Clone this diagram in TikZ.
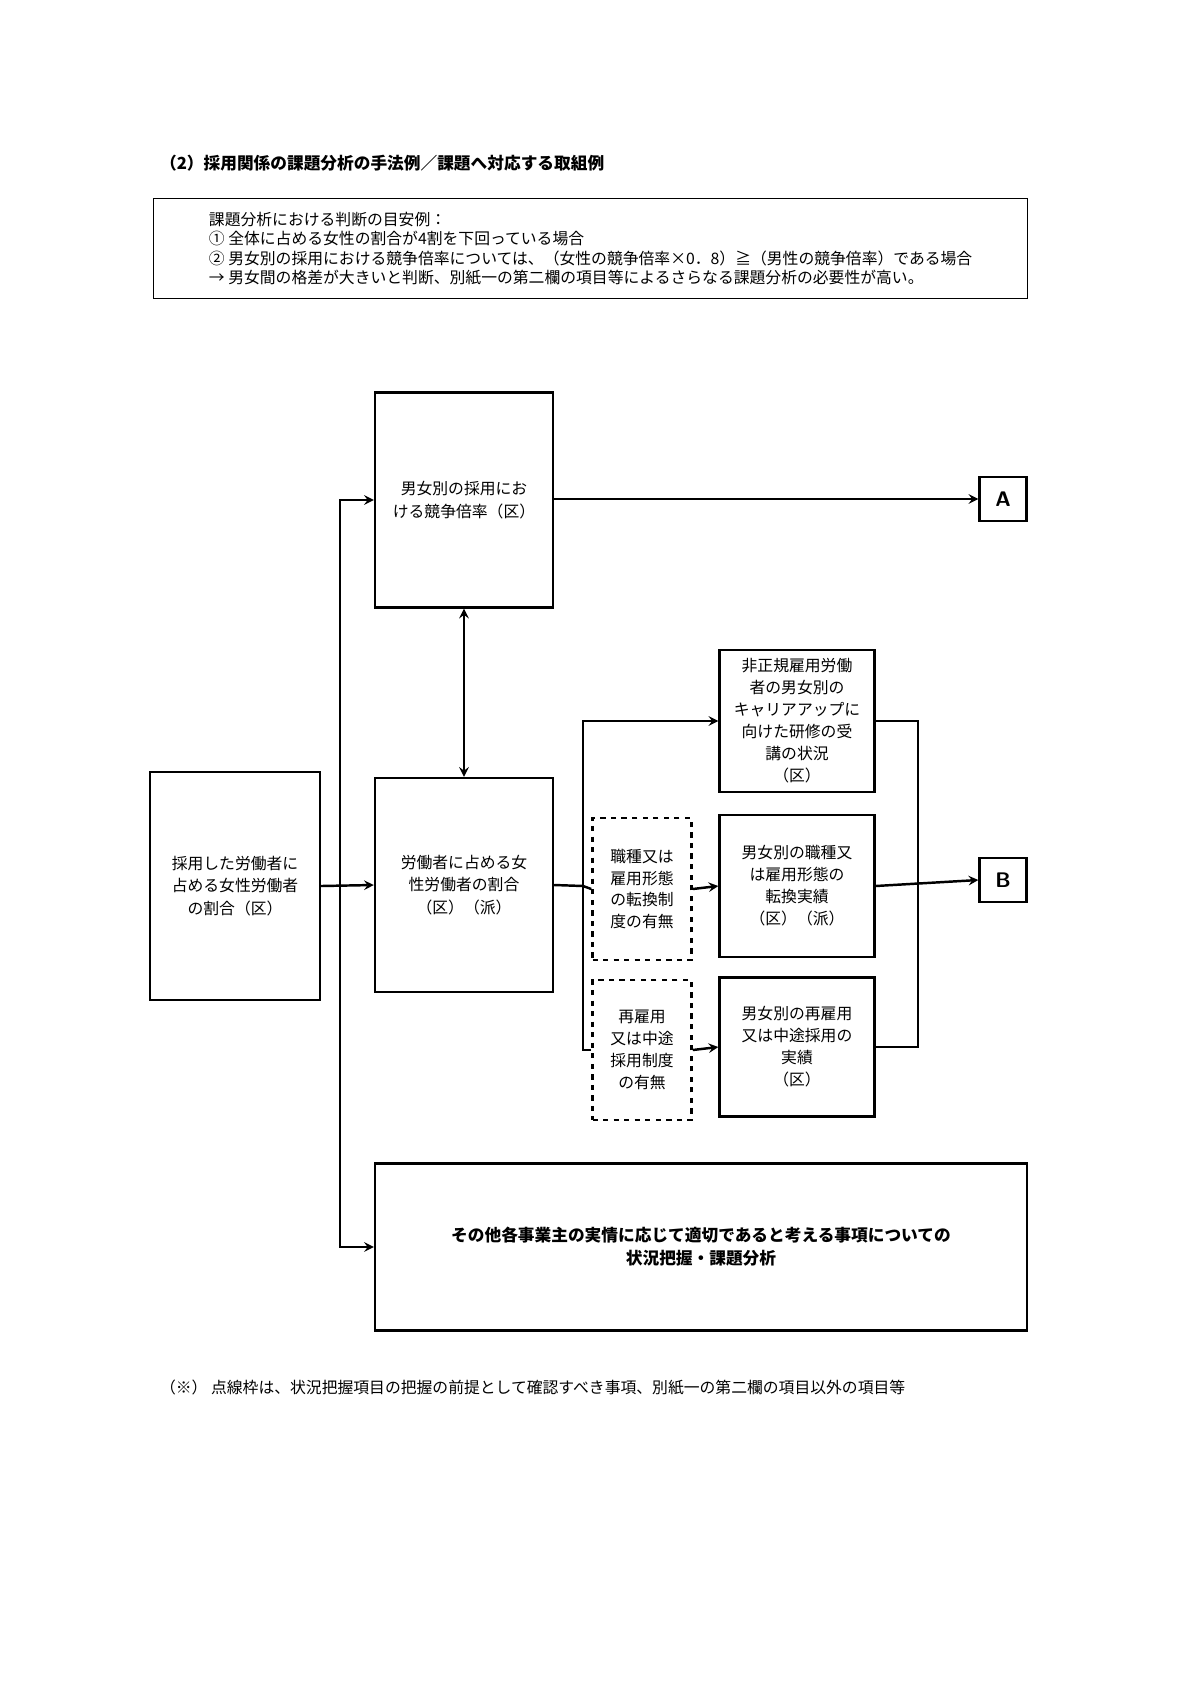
\documentclass[tikz,border=0pt]{standalone}
\usepackage{fontspec}
\setmainfont{Noto Sans CJK JP}
\usetikzlibrary{positioning}
\begin{document}
\begin{tikzpicture}[x=0.02cm, y=-0.02cm, line width=1.4pt, >=stealth,
  box/.style={draw, minimum width=3.56cm, align=center, font=\fontsize{9}{13}\selectfont, inner sep=2pt},
  small box/.style={draw, minimum width=3.1cm, align=center, font=\fontsize{9}{12.5}\selectfont},
  dash box/.style={draw, dashed, minimum width=1.98cm, align=center, font=\fontsize{9}{12.5}\selectfont},
  tag/.style={draw, minimum width=0.94cm, minimum height=0.88cm, font=\sffamily\bfseries\large}]
  \useasboundingbox (0,0) rectangle (1181,1695);
  \node[anchor=west, font=\bfseries\fontsize{9.5}{12}\selectfont] (title) at (153,163) {（2）採用関係の課題分析の手法例／課題へ対応する取組例};
  \node[draw, line width=0.8pt, anchor=north west, minimum width=17.48cm, minimum height=2cm, align=left,
        font=\fontsize{9}{11}\selectfont, inner sep=5pt] (crit) at (153,198)
    {課題分析における判断の目安例：\\
     ①\ 全体に占める女性の割合が4割を下回っている場合\\
     ②\ 男女別の採用における競争倍率については、（女性の競争倍率×0．8）≧（男性の競争倍率）である場合\\
     →\ 男女間の格差が大きいと判断、別紙一の第二欄の項目等によるさらなる課題分析の必要性が高い。};

  \node[box, minimum width=3.4cm, minimum height=4.56cm] (hired) at (235,886) {採用した労働者に\\占める女性労働者\\の割合（区）};
  \node[box, minimum height=4.3cm] (comp) at (464,500) {男女別の採用にお\\ける競争倍率（区）};
  \node[box, minimum height=4.28cm] (ratio) at (464,885) {労働者に占める女\\性労働者の割合\\（区）（派）};
  \node[tag] (a) at (1003,499) {A};
  \node[tag] (b) at (1003,880) {B};
  \node[small box, minimum height=2.84cm] (career) at (797,721) {非正規雇用労働\\者の男女別の\\キャリアアップに\\向けた研修の受\\講の状況\\（区）};
  \node[small box, minimum height=2.84cm] (conv) at (797,886) {男女別の職種又\\は雇用形態の\\転換実績\\（区）（派）};
  \node[small box, minimum height=2.78cm] (rehire) at (797,1047) {男女別の再雇用\\又は中途採用の\\実績\\（区）};
  \node[dash box, minimum height=2.84cm] (convsys) at (642,889) {職種又は\\雇用形態\\の転換制\\度の有無};
  \node[dash box, minimum height=2.8cm] (rehiresys) at (642,1050) {再雇用\\又は中途\\採用制度\\の有無};
  \node[draw, minimum width=13.04cm, minimum height=3.34cm, align=center,
        font=\bfseries\fontsize{9.5}{13}\selectfont] (other) at (701,1247)
    {その他各事業主の実情に応じて適切であると考える事項についての\\状況把握・課題分析};
  \node[anchor=west, font=\fontsize{9}{11}\selectfont] (note) at (153,1388)
    {（※）\ 点線枠は、状況把握項目の把握の前提として確認すべき事項、別紙一の第二欄の項目以外の項目等};

  \coordinate (trunk) at (340,886);
  \coordinate (split) at (583,886);
  \coordinate (join) at (918,886);
  \draw (hired.east) -- (trunk);
  \draw[->] (trunk) |- (comp.west);
  \draw[->] (trunk) |- (other.west);
  \draw[->] (hired.east) -- (ratio.west);
  \draw[<->] (comp.south) -- (ratio.north);
  \draw[->] (comp.east |- a) -- (a.west);
  \draw (ratio.east) -- (split);
  \draw[->] (split) |- (career.west);
  \draw (split) -- (convsys.west);
  \draw (split) |- (rehiresys.west);
  \draw[->] (convsys.east) -- (conv.west);
  \draw[->] (rehiresys.east) -- (rehire.west);
  \draw (career.east) -| (join);
  \draw (rehire.east) -| (join);
  \draw[->] (conv.east) -- (b.west);
\end{tikzpicture}
\end{document}
